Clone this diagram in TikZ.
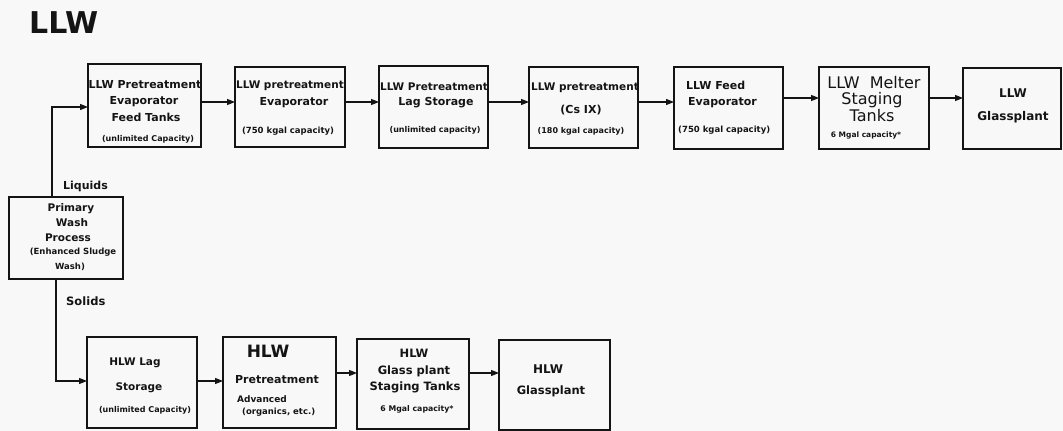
\documentclass[tikz,border=0pt]{standalone}
\usepackage{fontspec}
\usetikzlibrary{arrows.meta}
\newfontfamily\dvfam{DejaVu Sans}
\newcommand\fbd[1]{\dvfam\bfseries\fontsize{#1}{#1}\selectfont}
\newcommand\frg[1]{\dvfam\fontsize{#1}{#1}\selectfont}
\definecolor{bgc}{RGB}{248,248,248}
\definecolor{ink}{RGB}{20,20,20}
\tikzset{
  box/.style={draw=ink, line width=1.6pt, inner sep=0pt, outer sep=0pt},
  arr/.style={draw=ink, line width=1.3pt, -{Triangle[length=8pt,width=6pt]}},
  tx/.style={anchor=base, inner sep=0pt, text=ink},
  txl/.style={anchor=base west, inner sep=0pt, text=ink},
}
\begin{document}
\begin{tikzpicture}[x=1pt,y=-1pt]
\useasboundingbox[fill=bgc] (0,0) rectangle (1063,431);
% title
\node[txl, font=\fbd{30}] (title) at (29,33) {LLW};
% row 1 boxes
\node[box, minimum width=113pt, minimum height=83pt] (b1) at (144.5,105.5) {};
\node[box, minimum width=110pt, minimum height=80pt] (b2) at (290,107) {};
\node[box, minimum width=109pt, minimum height=82pt] (b3) at (433.5,107) {};
\node[box, minimum width=109pt, minimum height=81pt] (b4) at (583.5,107.5) {};
\node[box, minimum width=109pt, minimum height=82pt] (b5) at (728.5,108) {};
\node[box, minimum width=110pt, minimum height=82pt] (b6) at (874,108) {};
\node[box, minimum width=98pt, minimum height=81pt] (b7) at (1012,108.5) {};
% primary wash
\node[box, minimum width=114pt, minimum height=82pt] (pw) at (66,238) {};
% row 2 boxes
\node[box, minimum width=110pt, minimum height=91pt] (c1) at (142,382.5) {};
\node[box, minimum width=113pt, minimum height=91pt] (c2) at (279.5,382.5) {};
\node[box, minimum width=112pt, minimum height=90pt] (c3) at (413,384) {};
\node[box, minimum width=111pt, minimum height=90pt] (c4) at (554.5,385) {};
% texts b1
\node[tx, font=\fbd{11}] (b1a) at (145,88) {LLW Pretreatment};
\node[tx, font=\fbd{11}] (b1b) at (144,104) {Evaporator};
\node[tx, font=\fbd{11}] (b1c) at (146,121) {Feed Tanks};
\node[tx, font=\fbd{8}] (b1d) at (148,141) {(unlimited Capacity)};
% b2
\node[tx, font=\fbd{10.5}] (b2a) at (290,88) {LLW pretreatment};
\node[tx, font=\fbd{11}] (b2b) at (294,105) {Evaporator};
\node[tx, font=\fbd{8.5}] (b2c) at (288,133) {(750 kgal capacity)};
% b3
\node[tx, font=\fbd{10.5}] (b3a) at (434,90) {LLW Pretreatment};
\node[tx, font=\fbd{11}] (b3b) at (436,105) {Lag Storage};
\node[tx, font=\fbd{8}] (b3c) at (435,132) {(unlimited capacity)};
% b4
\node[tx, font=\fbd{10.5}] (b4a) at (585,90) {LLW pretreatment};
\node[tx, font=\fbd{11}] (b4b) at (581,113) {(Cs IX)};
\node[tx, font=\fbd{8}] (b4c) at (581,133) {(180 kgal capacity)};
% b5
\node[txl, font=\fbd{11}] (b5a) at (686,89) {LLW Feed};
\node[txl, font=\fbd{11}] (b5b) at (688,105) {Evaporator};
\node[txl, font=\fbd{8.5}] (b5c) at (678,132) {(750 kgal capacity)};
% b6
\node[tx, font=\frg{16}] (b6a) at (874,88) {LLW\ \ Melter};
\node[tx, font=\frg{16}] (b6b) at (872,104) {Staging};
\node[tx, font=\frg{16}] (b6c) at (872,121) {Tanks};
\node[tx, font=\fbd{7.5}] (b6d) at (866,137) {6 Mgal capacity*};
% b7
\node[tx, font=\fbd{12}] (b7a) at (1013,97) {LLW};
\node[tx, font=\fbd{12}] (b7b) at (1013,120) {Glassplant};
% primary wash
\node[tx, font=\fbd{10.5}] (pwa) at (71,211) {Primary};
\node[tx, font=\fbd{10.5}] (pwb) at (72,226) {Wash};
\node[tx, font=\fbd{10.5}] (pwc) at (68,241) {Process};
\node[tx, font=\fbd{8.5}] (pwd) at (73,254) {(Enhanced Sludge};
\node[tx, font=\fbd{8.5}] (pwe) at (70,269) {Wash)};
% labels
\node[txl, font=\fbd{11}] (liq) at (63,189) {Liquids};
\node[txl, font=\fbd{11.5}] (sol) at (66,305) {Solids};
% c1
\node[tx, font=\fbd{10.5}] (c1a) at (135,365) {HLW Lag};
\node[tx, font=\fbd{10.5}] (c1b) at (139,390) {Storage};
\node[tx, font=\fbd{8}] (c1c) at (145,412) {(unlimited Capacity)};
% c2
\node[tx, font=\fbd{17}] (c2a) at (268,357) {HLW};
\node[tx, font=\fbd{11}] (c2b) at (277,383) {Pretreatment};
\node[txl, font=\fbd{9}] (c2c) at (237,402) {Advanced};
\node[txl, font=\fbd{8.5}] (c2d) at (242,414) {(organics, etc.)};
% c3
\node[tx, font=\fbd{11.5}] (c3a) at (414,357) {HLW};
\node[tx, font=\fbd{11.5}] (c3b) at (414,374) {Glass plant};
\node[tx, font=\fbd{11.5}] (c3c) at (415,390) {Staging Tanks};
\node[tx, font=\fbd{7.8}] (c3d) at (417,411) {6 Mgal capacity*};
% c4
\node[tx, font=\fbd{12}] (c4a) at (548,373) {HLW};
\node[tx, font=\fbd{11.5}] (c4b) at (551,394) {Glassplant};
% levels
\coordinate (r0) at (0,107);
\coordinate (r1) at (0,102);
\coordinate (r1b) at (0,98);
\coordinate (r2) at (0,381);
\coordinate (r2b) at (0,373);
\coordinate (xl) at (52,0);
\coordinate (xs) at (56,0);
% connectors
\draw[arr] (pw.north -| xl) |- (b1.west |- r0);
\draw[arr] (pw.south -| xs) |- (c1.west |- r2);
\draw[arr] (b1.east |- r1) -- (b2.west |- r1);
\draw[arr] (b2.east |- r1) -- (b3.west |- r1);
\draw[arr] (b3.east |- r1) -- (b4.west |- r1);
\draw[arr] (b4.east |- r1) -- (b5.west |- r1);
\draw[arr] (b5.east |- r1b) -- (b6.west |- r1b);
\draw[arr] (b6.east |- r1b) -- (b7.west |- r1b);
\draw[arr] (c1.east |- r2) -- (c2.west |- r2);
\draw[arr] (c2.east |- r2b) -- (c3.west |- r2b);
\draw[arr] (c3.east |- r2b) -- (c4.west |- r2b);
\end{tikzpicture}
\end{document}
